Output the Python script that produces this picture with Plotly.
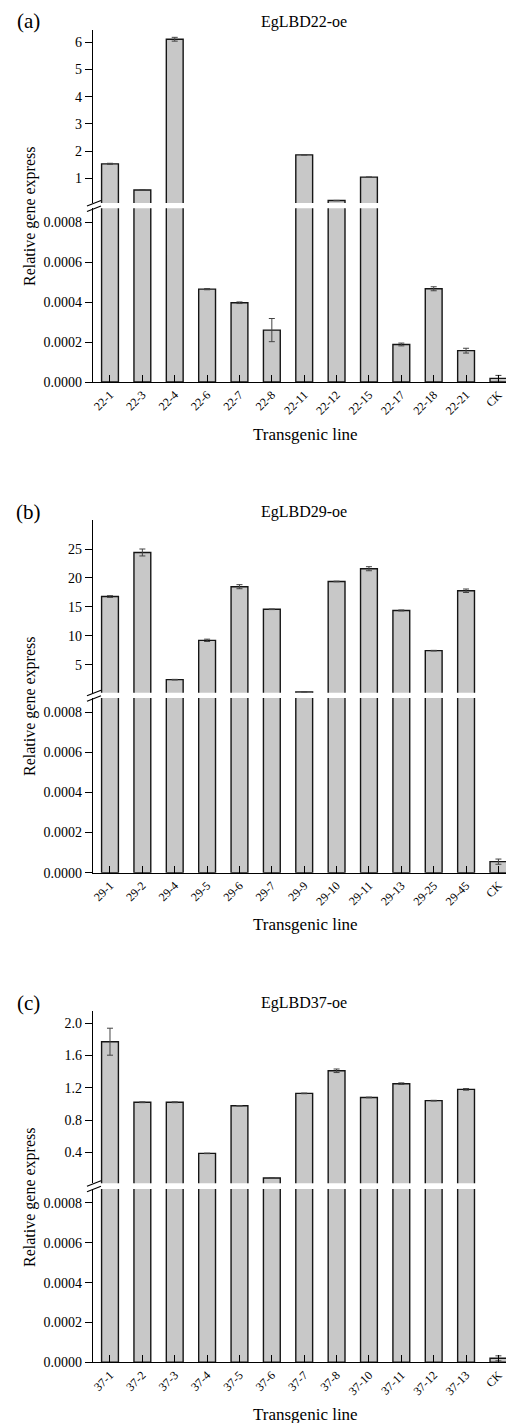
import plotly.graph_objects as go

W, H = 514, 1423
OFF = 8  # page body margin in the browser; figure is shifted by this amount
FW, FH = W - OFF, H - OFF

# ---------------- data ----------------
cats_a = ["22-1", "22-3", "22-4", "22-6", "22-7", "22-8", "22-11", "22-12", "22-15",
          "22-17", "22-18", "22-21", "CK"]
vals_a = [1.53, 0.57, 6.11, 0.000465, 0.000397, 0.00026, 1.86, 0.18, 1.04,
          0.000188, 0.000467, 0.000157, 0.000018]
errs_a = [0.02, 0.005, 0.07, 0.000003, 0.000004, 0.000058, 0.005, 0.005, 0.005,
          0.000007, 0.00001, 0.000012, 0.000015]

cats_b = ["29-1", "29-2", "29-4", "29-5", "29-6", "29-7", "29-9", "29-10", "29-11",
          "29-13", "29-25", "29-45", "CK"]
vals_b = [16.8, 24.4, 2.47, 9.25, 18.5, 14.6, 0.35, 19.4, 21.6, 14.4, 7.47, 17.8, 0.000055]
errs_b = [0.15, 0.6, 0.05, 0.2, 0.35, 0.05, 0.02, 0.05, 0.35, 0.08, 0.05, 0.3, 0.000013]

cats_c = ["37-1", "37-2", "37-3", "37-4", "37-5", "37-6", "37-7", "37-8", "37-10",
          "37-11", "37-12", "37-13", "CK"]
vals_c = [1.77, 1.02, 1.02, 0.387, 0.977, 0.082, 1.13, 1.41, 1.08, 1.25, 1.04, 1.18, 0.00002]
errs_c = [0.167, 0.005, 0.005, 0.003, 0.003, 0.003, 0.004, 0.022, 0.004, 0.01, 0.004, 0.01, 0.0000125]

titles = ["EgLBD22-oe", "EgLBD29-oe", "EgLBD37-oe"]
letters = ["(a)", "(b)", "(c)"]
upper_ranges = [[0.09, 6.45], [0.22, 30.0], [0.017, 2.15]]
upper_ticks = [[1, 2, 3, 4, 5, 6], [5, 10, 15, 20, 25], [0.4, 0.8, 1.2, 1.6, 2.0]]
upper_ticktext = [["1", "2", "3", "4", "5", "6"], ["5", "10", "15", "20", "25"],
                  ["0.4", "0.8", "1.2", "1.6", "2.0"]]
lower_range = [0, 0.00087]
lower_ticks = [0, 0.0002, 0.0004, 0.0006, 0.0008]
lower_ticktext = ["0.0000", "0.0002", "0.0004", "0.0006", "0.0008"]
x_title = "Transgenic line"
y_title = "Relative gene express"

# ---------------- layout geometry (page pixels) ----------------
panel_top = [30, 520, 1011]          # top of upper segment
upper_bot = [203, 692.7, 1183.3]     # bottom of upper segment
lower_top = [208.3, 698, 1189]       # top of lower segment
lower_bot = [382, 872.7, 1362.3]     # x-axis line
letter_top = [8.5, 499, 990]         # top of the "(a)/(b)/(c)" text boxes
x_left, x_right = 93, 513

FONT = "Liberation Serif"


def py(p):
    return 1 - (p - OFF) / FH


def px(p):
    return (p - OFF) / FW


data = [(cats_a, vals_a, errs_a), (cats_b, vals_b, errs_b), (cats_c, vals_c, errs_c)]

fig = go.Figure()
layout = dict(
    width=FW, height=FH, margin=dict(l=0, r=0, t=0, b=0, autoexpand=False),
    plot_bgcolor="white", paper_bgcolor="white", showlegend=False,
    font=dict(family=FONT, color="black"),
)
annotations = []
shapes = []

for i, (cats, vals, errs) in enumerate(data):
    lo = 2 * i + 1
    up = 2 * i + 2
    for k in (lo, up):
        fig.add_trace(go.Bar(
            x=cats, y=vals,
            xaxis="x" if k == 1 else f"x{k}",
            yaxis="y" if k == 1 else f"y{k}",
            width=0.52,
            marker=dict(color="#c8c8c8", line=dict(color="#151515", width=1.4)),
            error_y=dict(type="data", array=errs, visible=True, color="#444444",
                         thickness=1, width=3),
            hoverinfo="skip",
        ))
    xr = [-0.525, 12.45]
    layout["xaxis" if lo == 1 else f"xaxis{lo}"] = dict(
        type="category", categoryorder="array", categoryarray=cats,
        domain=[px(x_left), min(1, px(x_right))], range=xr, anchor="y" if lo == 1 else f"y{lo}",
        showline=True, linecolor="black", linewidth=1.3, mirror=False,
        ticks="inside", ticklen=7, tickwidth=1, tickcolor="black",
        tickangle=-45, tickfont=dict(family=FONT, size=12, color="black"),
        showgrid=False, zeroline=False, fixedrange=True, automargin=False,
    )
    layout[f"xaxis{up}"] = dict(
        type="category", categoryorder="array", categoryarray=cats,
        domain=[px(x_left), min(1, px(x_right))], range=xr, anchor=f"y{up}",
        visible=False, showgrid=False, zeroline=False, automargin=False,
    )
    layout["yaxis" if lo == 1 else f"yaxis{lo}"] = dict(
        domain=[py(lower_bot[i]), py(lower_top[i])], range=lower_range,
        anchor="x" if lo == 1 else f"x{lo}",
        showline=True, linecolor="black", linewidth=1.3,
        ticks="outside", ticklen=7, tickwidth=1, tickcolor="black",
        tickvals=lower_ticks, ticktext=lower_ticktext,
        tickfont=dict(family=FONT, size=14, color="black"),
        showgrid=False, zeroline=False, automargin=False,
    )
    layout[f"yaxis{up}"] = dict(
        domain=[py(upper_bot[i]), py(panel_top[i])], range=upper_ranges[i],
        anchor=f"x{up}",
        showline=True, linecolor="black", linewidth=1.3,
        ticks="outside", ticklen=7, tickwidth=1, tickcolor="black",
        tickvals=upper_ticks[i], ticktext=upper_ticktext[i],
        tickfont=dict(family=FONT, size=14, color="black"),
        showgrid=False, zeroline=False, automargin=False,
    )

    # panel letter
    annotations.append(dict(text=letters[i], x=px(28), y=py(letter_top[i]),
                            xref="paper", yref="paper", showarrow=False,
                            xanchor="center", yanchor="top", borderpad=0,
                            font=dict(family=FONT, size=21, color="black")))
    # panel title
    annotations.append(dict(text=titles[i], x=px(304), y=py(panel_top[i] - 8),
                            xref="paper", yref="paper", showarrow=False,
                            xanchor="center", yanchor="middle",
                            font=dict(family=FONT, size=16, color="black")))
    # y title
    annotations.append(dict(text=y_title, x=px(30), y=py(panel_top[i] + 186),
                            xref="paper", yref="paper", showarrow=False, textangle=-90,
                            xanchor="center", yanchor="middle",
                            font=dict(family=FONT, size=16, color="black")))
    # x title
    annotations.append(dict(text=x_title, x=px(305), y=py(lower_bot[i] + 52),
                            xref="paper", yref="paper", showarrow=False,
                            xanchor="center", yanchor="middle",
                            font=dict(family=FONT, size=17, color="black")))
    # break marks
    ub = upper_bot[i]
    for off in (3.0, 8.5):
        shapes.append(dict(type="line", xref="paper", yref="paper",
                           x0=px(87), y0=py(ub + off), x1=px(101), y1=py(ub + off - 5.5),
                           line=dict(color="black", width=1.2)))

layout["annotations"] = annotations
layout["shapes"] = shapes
fig.update_layout(**layout)

fig.write_html("out.html")
